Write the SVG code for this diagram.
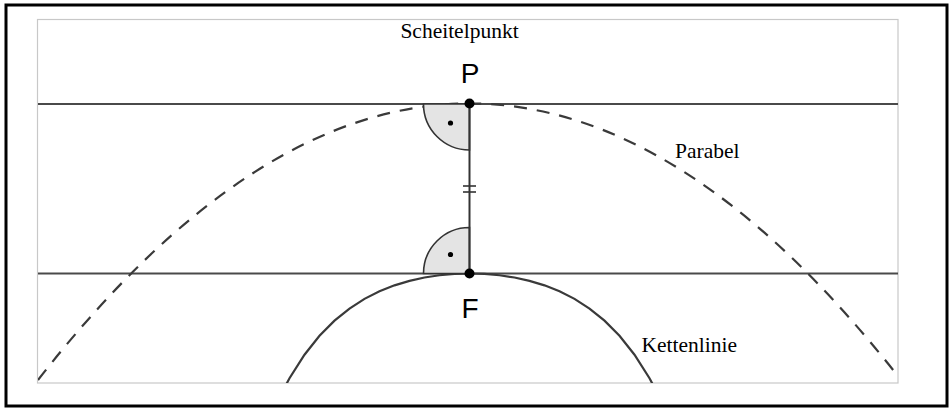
<svg xmlns="http://www.w3.org/2000/svg" width="949" height="408" viewBox="0 0 949 408">
<style>
.frame{fill:none;stroke:#000;stroke-width:3}
.plot{fill:none;stroke:#c8c8c8;stroke-width:1.2}
.line{fill:none;stroke:#4a4a4a;stroke-width:2}
.curve{fill:none;stroke:#3a3a3a;stroke-width:2.2}
.dash{stroke-dasharray:13 10}
.angle{fill:#e4e4e4;stroke:#333;stroke-width:1.6}
.pt{fill:#000}
.serif{font-family:"Liberation Serif","Times New Roman",serif;font-size:21.5px;fill:#000}
.sans{font-family:"Liberation Sans",Arial,sans-serif;font-size:28px;fill:#000}
</style>
<defs>
<clipPath id="clip"><rect x="38" y="20" width="860" height="363"/></clipPath>
</defs>
<rect class="frame" x="6" y="5" width="941" height="401"/>
<rect class="plot" x="37.5" y="19.5" width="860.5" height="363.5"/>
<g id="connectors" clip-path="url(#clip)">
<line class="line" x1="38" y1="104" x2="898" y2="104"/>
<line class="line" x1="38" y1="273.5" x2="898" y2="273.5"/>
<path class="curve dash" d="M38,380 Q468,-171.1 898,376.2"/>
<polyline class="curve" points="279.5,397 289.5,378.25 304.5,354.73 319.5,335.83 334.5,320.66 349.5,308.53 364.5,298.88 379.5,291.27 394.5,285.34 409.5,280.83 424.5,277.51 439.5,275.25 454.5,273.93 469.5,273.5 484.5,273.93 499.5,275.25 514.5,277.51 529.5,280.83 544.5,285.34 559.5,291.27 574.5,298.88 589.5,308.53 604.5,320.66 619.5,335.83 634.5,354.73 649.5,378.25 659.5,397"/>
</g>
<g id="angleP">
<path class="angle" d="M469.5,104 L423.5,104 A46,46 0 0 0 469.5,150 Z"/>
<circle class="pt" cx="450.5" cy="123" r="2.6"/>
</g>
<g id="angleF">
<path class="angle" d="M469.5,273.5 L423.5,273.5 A46,46 0 0 1 469.5,227.5 Z"/>
<circle class="pt" cx="450.5" cy="254.5" r="2.6"/>
</g>
<g id="segment">
<line x1="469.5" y1="104" x2="469.5" y2="273.5" stroke="#333" stroke-width="2"/>
<line x1="463" y1="186" x2="476" y2="186" stroke="#333" stroke-width="1.6"/>
<line x1="463" y1="192" x2="476" y2="192" stroke="#333" stroke-width="1.6"/>
</g>
<g id="nodeP">
<circle class="pt" cx="469.5" cy="103.5" r="5"/>
<text class="sans" x="470" y="83" text-anchor="middle">P</text>
</g>
<g id="nodeF">
<circle class="pt" cx="469.5" cy="273.5" r="5"/>
<text class="sans" x="470" y="318" text-anchor="middle">F</text>
</g>
<g id="labelScheitel"><text class="serif" x="459.5" y="38" text-anchor="middle">Scheitelpunkt</text></g>
<g id="labelParabel"><text class="serif" x="675" y="158">Parabel</text></g>
<g id="labelKette"><text class="serif" x="641.5" y="352">Kettenlinie</text></g>
</svg>
